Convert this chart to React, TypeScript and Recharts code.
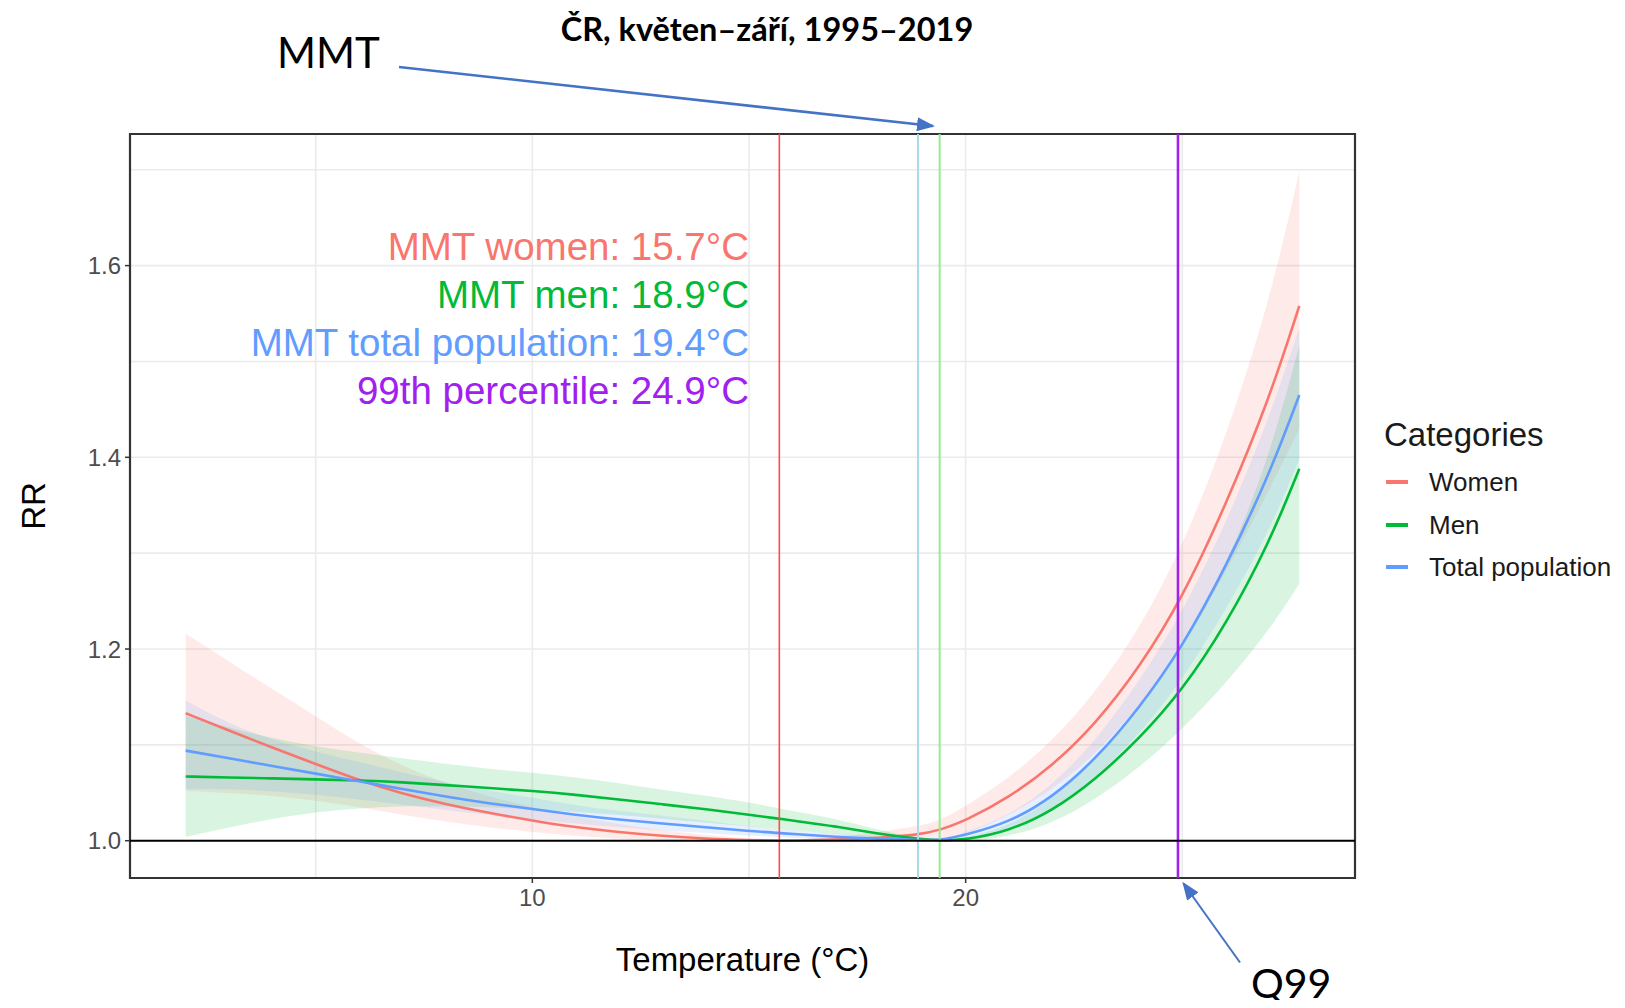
import React from 'react';
import {
  ComposedChart,
  Line,
  Area,
  XAxis,
  YAxis,
  CartesianGrid,
  ReferenceLine,
  ReferenceArea,
  ReferenceDot,
  Legend,
} from 'recharts';

// ---------- data ----------
const temps = [2, 3, 4, 5, 6, 7, 8, 9, 10, 11, 12, 13, 14, 15, 15.7, 16, 17, 18, 18.9, 19.4, 20, 21, 22, 23, 24, 25, 26, 27, 27.7];

const womenRR = [1.133, 1.115, 1.097, 1.08, 1.063, 1.049, 1.038, 1.029, 1.021, 1.014, 1.009, 1.005, 1.002, 1.0005, 1.0, 1.0, 1.001, 1.003, 1.006, 1.011, 1.021, 1.045, 1.078, 1.122, 1.18, 1.253, 1.35, 1.46, 1.558];
const womenLo = [1.052, 1.05, 1.047, 1.042, 1.035, 1.027, 1.02, 1.014, 1.009, 1.005, 1.002, 1.0, 0.999, 0.999, 1.0, 0.999, 0.998, 0.998, 0.999, 1.002, 1.007, 1.026, 1.053, 1.09, 1.14, 1.2, 1.28, 1.365, 1.43];
const womenHi = [1.216, 1.187, 1.158, 1.13, 1.101, 1.078, 1.06, 1.046, 1.035, 1.025, 1.017, 1.011, 1.006, 1.002, 1.0, 1.001, 1.004, 1.009, 1.015, 1.021, 1.036, 1.065, 1.104, 1.155, 1.22, 1.306, 1.42, 1.56, 1.698];

const menRR = [1.067, 1.066, 1.065, 1.064, 1.063, 1.061, 1.058, 1.055, 1.052, 1.048, 1.043, 1.038, 1.033, 1.027, 1.023, 1.021, 1.015, 1.007, 1.002, 1.0, 1.001, 1.01, 1.031, 1.064, 1.106, 1.157, 1.225, 1.31, 1.388];
const menLo = [1.004, 1.014, 1.023, 1.03, 1.034, 1.036, 1.036, 1.035, 1.033, 1.03, 1.027, 1.023, 1.019, 1.015, 1.012, 1.011, 1.007, 1.003, 1.0, 1.0, 0.999, 1.004, 1.018, 1.043, 1.076, 1.116, 1.164, 1.219, 1.268];
const menHi = [1.13, 1.118, 1.107, 1.098, 1.092, 1.086, 1.08, 1.075, 1.071, 1.066, 1.06, 1.053, 1.047, 1.04, 1.034, 1.031, 1.023, 1.011, 1.003, 1.0, 1.003, 1.015, 1.043, 1.085, 1.14, 1.203, 1.285, 1.398, 1.517];

const totalRR = [1.094, 1.086, 1.078, 1.07, 1.062, 1.054, 1.046, 1.039, 1.033, 1.027, 1.022, 1.018, 1.014, 1.01, 1.008, 1.007, 1.004, 1.002, 1.001, 1.0, 1.006, 1.019, 1.045, 1.085, 1.138, 1.202, 1.285, 1.381, 1.465];
const totalLo = [1.054, 1.054, 1.052, 1.048, 1.043, 1.038, 1.032, 1.027, 1.022, 1.018, 1.014, 1.011, 1.008, 1.005, 1.004, 1.003, 1.001, 1.0, 1.0, 1.0, 1.003, 1.012, 1.032, 1.066, 1.11, 1.168, 1.24, 1.322, 1.398];
const totalHi = [1.146, 1.122, 1.105, 1.093, 1.082, 1.071, 1.061, 1.052, 1.045, 1.037, 1.031, 1.026, 1.021, 1.015, 1.012, 1.011, 1.007, 1.004, 1.002, 1.0, 1.009, 1.026, 1.058, 1.104, 1.166, 1.238, 1.33, 1.44, 1.535];

const seriesNames = ['Women', 'Men', 'Total population'];
const seriesKeys = ['women', 'men', 'total'];
const seriesColors = ['#F8766D', '#00BA38', '#619CFF'];

const xTicks = [10, 20];
const yTicks = [1.0, 1.2, 1.4, 1.6];
const xGridValues = [5, 10, 15, 20, 25];
const yGridValues = [1.0, 1.1, 1.2, 1.3, 1.4, 1.5, 1.6, 1.7];
const xDomain = [0.715, 28.985];
const yDomain = [0.9611, 1.7373];

const vLineValues = [15.7, 18.9, 19.4, 24.9];
const vLineColors = ['#FF4A4A', '#ADD8E6', '#90EE90', '#A020F0'];
const vLineWidths = [1.6, 2, 2, 2.6];

const noteTexts = ['MMT women: 15.7°C', 'MMT men: 18.9°C', 'MMT total population: 19.4°C', '99th percentile: 24.9°C'];
const noteColors = ['#F8766D', '#00BA38', '#619CFF', '#A020F0'];
const noteY = [1.62, 1.57, 1.52, 1.47];
const noteX = 15;

const title = 'ČR, květen–září, 1995–2019';

const table = temps.map((t, i) => ({
  t,
  women: womenRR[i],
  men: menRR[i],
  total: totalRR[i],
  womenBand: [womenLo[i], womenHi[i]],
  menBand: [menLo[i], menHi[i]],
  totalBand: [totalLo[i], totalHi[i]],
}));

const W = 1609;
const H = 992;
const FONT = '"Liberation Sans", Arial, sans-serif';
const ANNOT_FONT = 'Lato, "Open Sans", sans-serif';

const LegendBox = () => (
  <div style={{ fontFamily: FONT, color: '#1a1a1a' }}>
    <div style={{ fontSize: 33, lineHeight: '44px', height: 44, marginBottom: 4, whiteSpace: 'nowrap' }}>Categories</div>
    {seriesNames.map((n, i) => (
      <div key={n} style={{ position: 'relative', height: 42.5, lineHeight: '42.5px', whiteSpace: 'nowrap' }}>
        <div style={{ position: 'absolute', left: 2, top: 19.25, width: 22, height: 4, background: seriesColors[i] }} />
        <span style={{ position: 'absolute', left: 45, top: 0, fontSize: 26 }}>{n}</span>
      </div>
    ))}
  </div>
);

export default function App() {
  return (
    <div style={{ position: 'relative', width: W, height: H, background: '#fff' }}>
      <ComposedChart
        width={W}
        height={H}
        data={table}
        margin={{ top: 126, right: 262, bottom: 0, left: 0 }}
        style={{ fontFamily: FONT }}
      >
        <CartesianGrid
          stroke="#EBEBEB"
          strokeWidth={1.6}
          horizontalValues={yGridValues}
          verticalValues={xGridValues}
        />
        <XAxis
          dataKey="t"
          type="number"
          domain={xDomain}
          allowDataOverflow
          ticks={xTicks}
          height={122}
          tickSize={5}
          tickMargin={6}
          axisLine={false}
          tickLine={{ stroke: '#333', strokeWidth: 1.5 }}
          tick={{ fill: '#4D4D4D', fontSize: 24, fontFamily: FONT }}
          label={{ value: 'Temperature (°C)', position: 'insideBottom', offset: 29, fill: '#000', fontSize: 33, fontFamily: FONT }}
        />
        <YAxis
          type="number"
          domain={yDomain}
          allowDataOverflow
          ticks={yTicks}
          width={122}
          tickSize={5}
          tickMargin={4}
          axisLine={false}
          tickFormatter={(v: number) => v.toFixed(1)}
          tickLine={{ stroke: '#333', strokeWidth: 1.5 }}
          tick={{ fill: '#4D4D4D', fontSize: 24, fontFamily: FONT }}
          label={{ value: 'RR', angle: -90, position: 'insideLeft', offset: 25, fill: '#000', fontSize: 33, fontFamily: FONT, style: { textAnchor: 'middle' } }}
        />
        {seriesKeys.map((k, i) => (
          <Area
            key={k + 'band'}
            type="basis"
            dataKey={k + 'Band'}
            stroke="none"
            fill={seriesColors[i]}
            fillOpacity={0.15}
            isAnimationActive={false}
            activeDot={false}
            legendType="none"
          />
        ))}
        {seriesKeys.map((k, i) => (
          <Line
            key={k}
            type="basis"
            dataKey={k}
            name={seriesNames[i]}
            stroke={seriesColors[i]}
            strokeWidth={2.6}
            dot={false}
            activeDot={false}
            isAnimationActive={false}
          />
        ))}
        {vLineValues.map((v, i) => (
          <ReferenceLine key={'v' + v} x={v} stroke={vLineColors[i]} strokeWidth={vLineWidths[i]} />
        ))}
        <ReferenceLine y={1} stroke="#000" strokeWidth={2} />
        {noteTexts.map((txt, i) => (
          <ReferenceDot
            key={txt}
            x={noteX}
            y={noteY[i]}
            r={0}
            shape={(p: any) => (
              <text
                x={p.cx}
                y={p.cy}
                textAnchor="end"
                dominantBaseline="central"
                fill={noteColors[i]}
                fontSize={38.5}
                fontFamily={FONT}
              >
                {txt}
              </text>
            )}
          />
        ))}
        <ReferenceArea
          x1={xDomain[0]}
          x2={xDomain[1]}
          y1={yDomain[0]}
          y2={yDomain[1]}
          fill="none"
          fillOpacity={0}
          stroke="#333"
          strokeWidth={2.2}
        />
        <Legend
          layout="horizontal"
          verticalAlign="middle"
          align="center"
          wrapperStyle={{ left: 1376, top: 405, width: 240, height: 180 }}
          content={() => <LegendBox />}
        />
      </ComposedChart>
      <svg
        width={W}
        height={H}
        style={{ position: 'absolute', left: 0, top: 0, pointerEvents: 'none', overflow: 'visible' }}
      >
        <defs>
          <marker id="arrowHead" markerUnits="userSpaceOnUse" markerWidth="18" markerHeight="14" refX="16" refY="7" orient="auto">
            <path d="M0,0 L18,7 L0,14 Z" fill="#4472C4" />
          </marker>
        </defs>
        <text x={759} y={20} textAnchor="middle" dominantBaseline="central" fontFamily={ANNOT_FONT} fontWeight="bold" fontSize={32.5} fill="#000">
          {title}
        </text>
        <text x={269} y={44} textAnchor="start" dominantBaseline="central" fontFamily={ANNOT_FONT} fontSize={42} fill="#000">
          MMT
        </text>
        <line x1={391} y1={59} x2={925} y2={118} stroke="#4472C4" strokeWidth={2.6} markerEnd="url(#arrowHead)" />
        <text x={1243} y={974} textAnchor="start" dominantBaseline="central" fontFamily={ANNOT_FONT} fontSize={41} fill="#000">
          Q99
        </text>
        <line x1={1232} y1={954.5} x2={1175.5} y2={875.5} stroke="#4472C4" strokeWidth={2} markerEnd="url(#arrowHead)" />
      </svg>
    </div>
  );
}
